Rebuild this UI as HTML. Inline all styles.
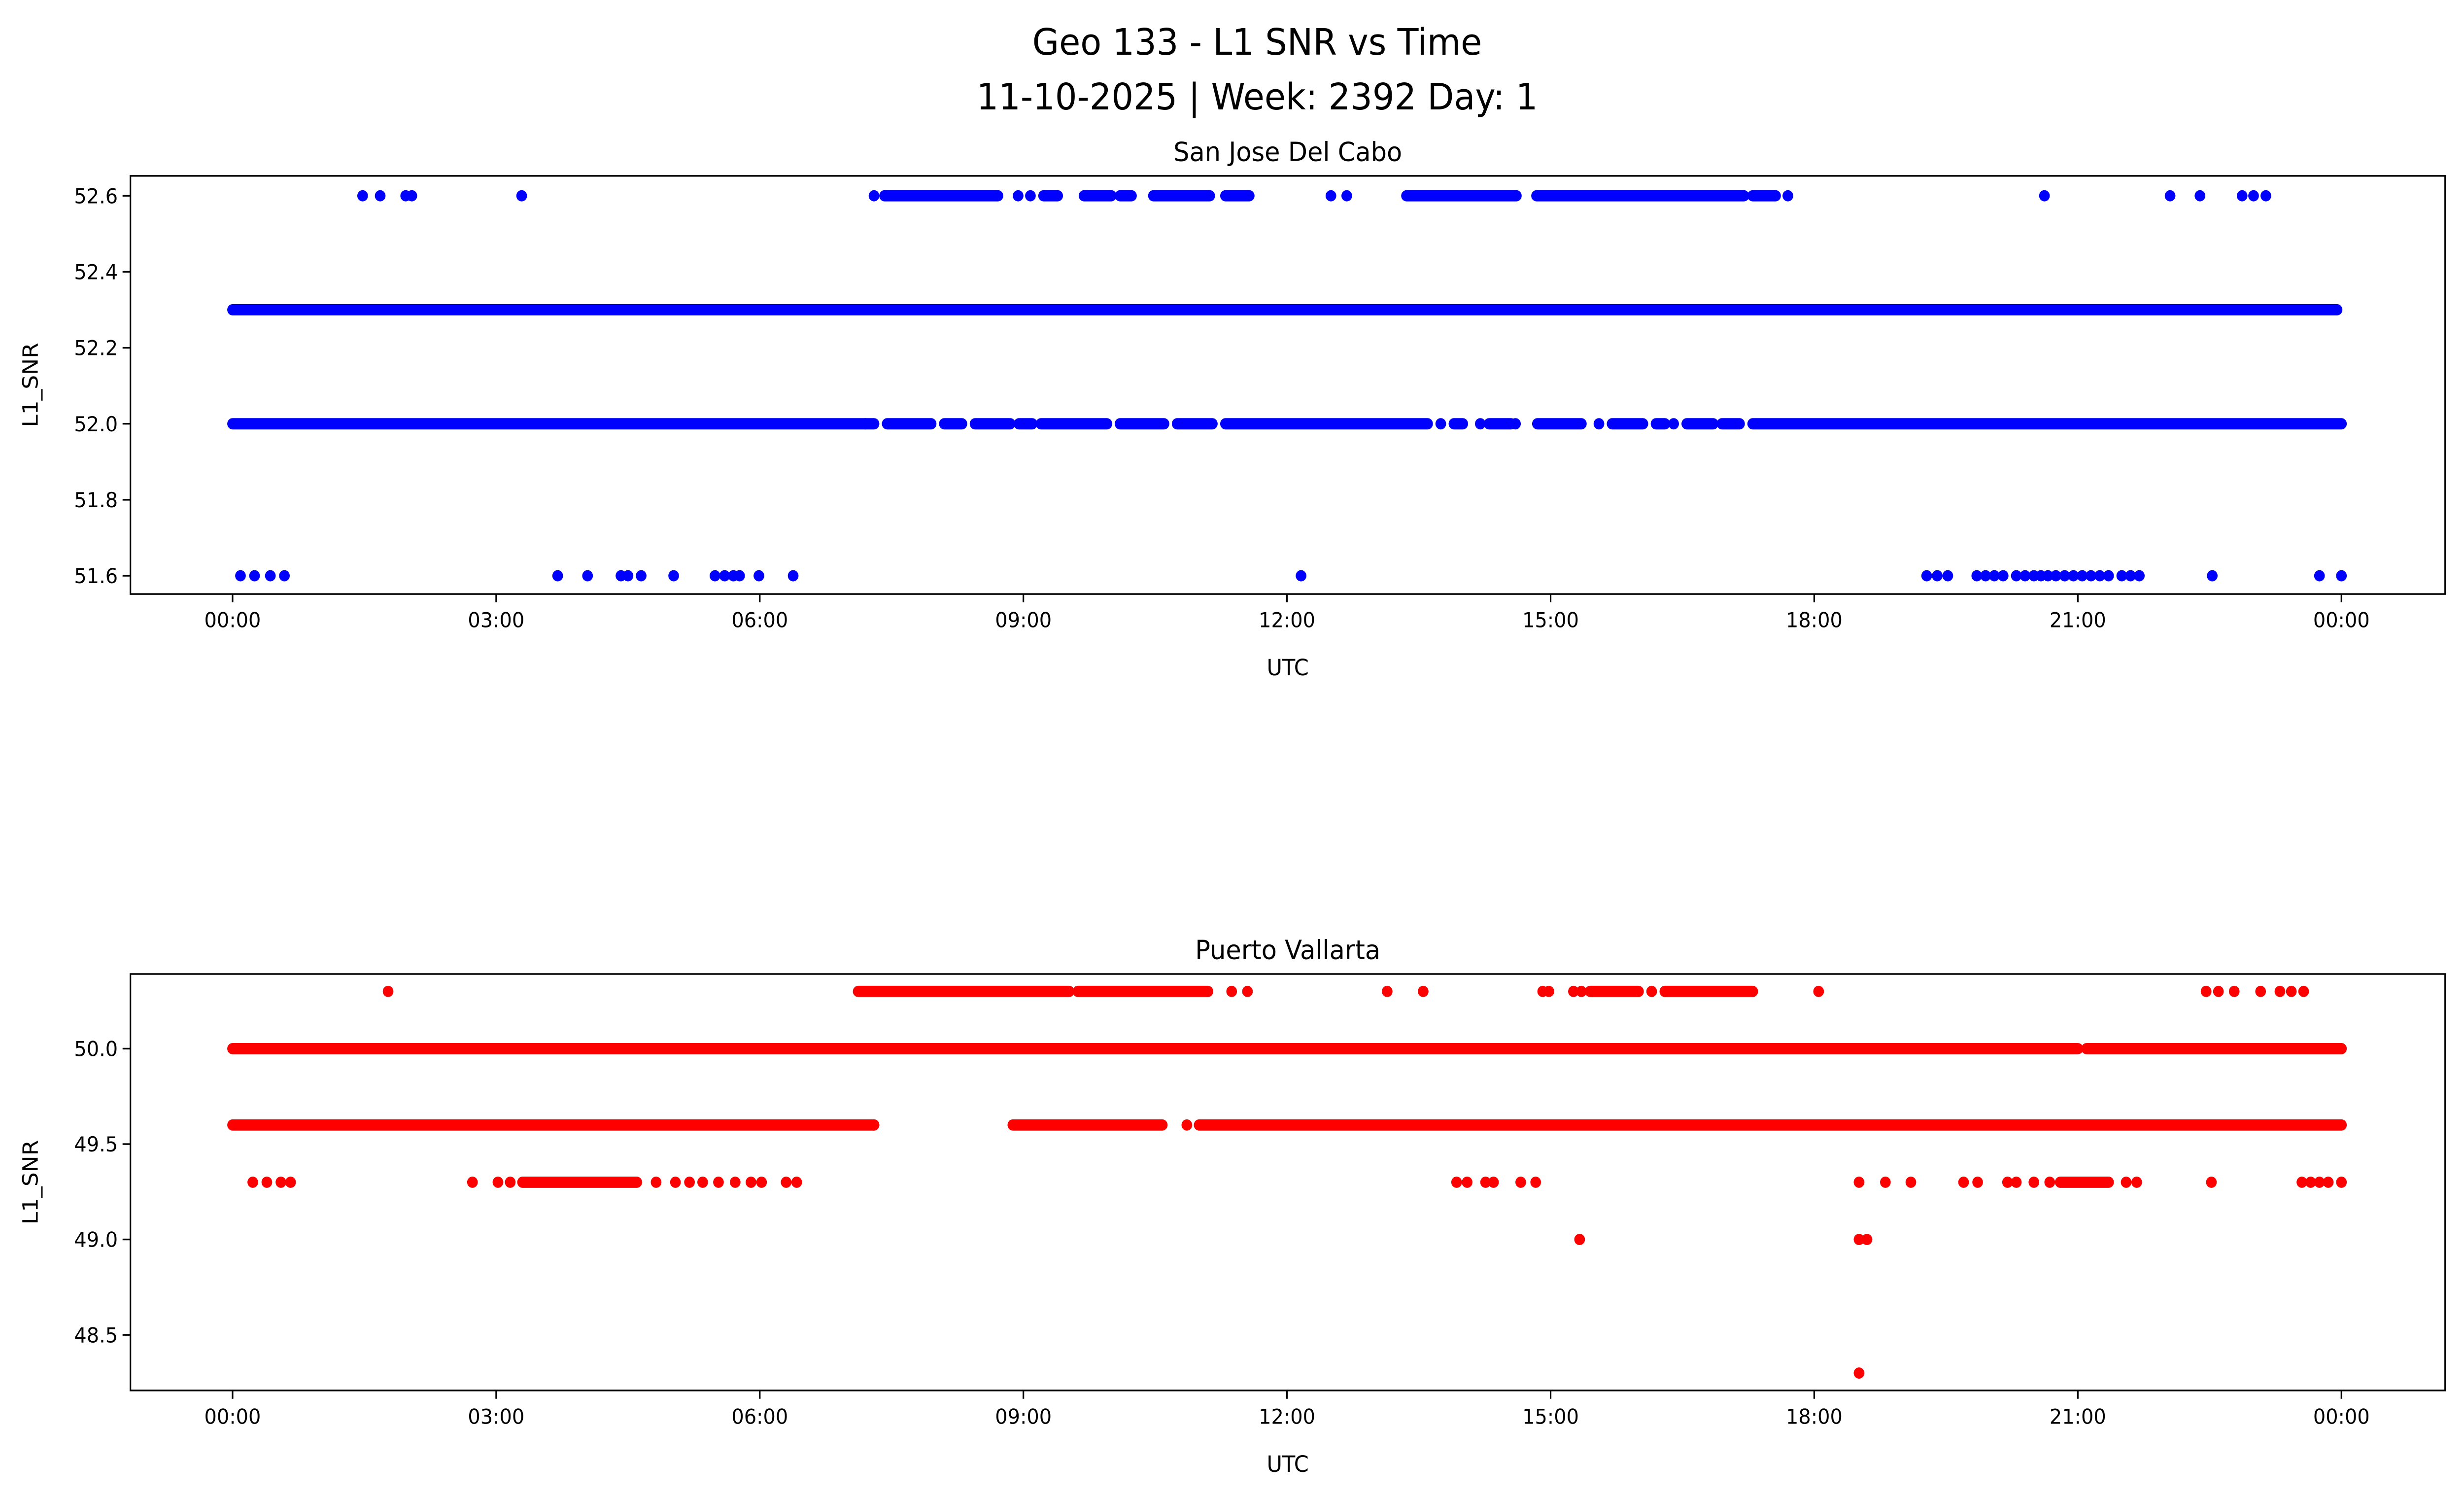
<!DOCTYPE html>
<html><head><meta charset="utf-8"><style>
html,body{margin:0;padding:0;background:#fff;width:100%;height:100%;overflow:hidden;}
svg{display:block;width:100vw;height:100vh;font-family:"DejaVu Sans","Liberation Sans",sans-serif;}
</style></head><body>
<svg id="chart" xmlns="http://www.w3.org/2000/svg" viewBox="0 0 1568 901" preserveAspectRatio="none">
<rect x="0" y="0" width="1568" height="901" fill="#fff"/>
<text x="800" y="33" text-anchor="middle" font-size="22">Geo 133 - L1 SNR vs Time</text>
<text x="800" y="66" text-anchor="middle" font-size="22">11-10-2025 | Week: 2392 Day: 1</text>
<g id="p1"></g><g id="p2"></g>
</svg>
<script>
// ---- data (hours UTC) ----
const xTickLabels = ["00:00","03:00","06:00","09:00","12:00","15:00","18:00","21:00","00:00"];
const xTickHours = [0,3,6,9,12,15,18,21,24];
const topYTicks = [51.6,51.8,52.0,52.2,52.4,52.6];
const botYTicks = [48.5,49.0,49.5,50.0];
// top (blue): runs [start,end,value]
const topRuns = [
 [0,23.95,52.3],
 [0,7.3,52.0],[7.45,7.95],[8.1,8.3],[8.45,8.85],[8.95,9.1],[9.2,9.95],[10.1,10.6],[10.75,11.15],[11.3,13.6],[13.9,14.0],[14.3,14.55],[14.85,15.35],[15.7,16.05],[16.2,16.3],[16.55,16.85],[16.95,17.15],[17.3,24.0],
 [7.42,8.71,52.6],[9.23,9.39],[9.69,10.0],[10.1,10.23],[10.48,11.12],[11.3,11.57],[13.36,14.61],[14.84,17.2],[17.3,17.56]
];
for(let i=1;i<topRuns.length;i++) if(topRuns[i].length===2) topRuns[i].push(topRuns[i-1][2]);
const topPoints = [
 [1.48,52.6],[1.68,52.6],[1.97,52.6],[2.04,52.6],[3.29,52.6],[7.3,52.6],[8.94,52.6],[9.08,52.6],[12.5,52.6],[12.68,52.6],[17.7,52.6],[20.62,52.6],[22.05,52.6],[22.39,52.6],[22.87,52.6],[23.0,52.6],[23.14,52.6],
 [7.2,52.0],[13.75,52.0],[14.2,52.0],[14.6,52.0],[15.55,52.0],[16.4,52.0],
 [0.09,51.6],[0.25,51.6],[0.43,51.6],[0.59,51.6],[3.7,51.6],[4.04,51.6],[4.42,51.6],[4.5,51.6],[4.65,51.6],[5.02,51.6],[5.49,51.6],[5.6,51.6],[5.7,51.6],[5.77,51.6],[5.99,51.6],[6.38,51.6],[12.16,51.6],
 [19.28,51.6],[19.4,51.6],[19.52,51.6],[19.85,51.6],[19.95,51.6],[20.05,51.6],[20.15,51.6],[20.3,51.6],[20.4,51.6],[20.5,51.6],[20.58,51.6],[20.66,51.6],[20.75,51.6],[20.85,51.6],[20.95,51.6],[21.05,51.6],[21.15,51.6],[21.25,51.6],[21.35,51.6],[21.5,51.6],[21.6,51.6],[21.7,51.6],[22.53,51.6],[23.75,51.6],[24.0,51.6]
];
// bottom (red)
const botRuns = [
 [0,21.0,50.0],[21.1,24.0,50.0],
 [0,7.3,49.6],[8.88,10.58,49.6],[11.0,24.0,49.6],
 [7.12,9.52,50.3],[9.62,11.1,50.3],[15.45,16.0,50.3],[16.3,17.3,50.3],
 [3.3,4.6,49.3],[20.8,21.35,49.3]
];
const botPoints = [
 [1.77,50.3],[11.37,50.3],[11.55,50.3],[13.14,50.3],[13.55,50.3],[14.91,50.3],[14.98,50.3],[15.26,50.3],[15.35,50.3],[16.15,50.3],[18.05,50.3],[22.46,50.3],[22.6,50.3],[22.78,50.3],[23.08,50.3],[23.3,50.3],[23.43,50.3],[23.57,50.3],
 [7.3,49.6],[10.86,49.6],
 [0.23,49.3],[0.39,49.3],[0.55,49.3],[0.66,49.3],[2.73,49.3],[3.02,49.3],[3.16,49.3],[4.82,49.3],[5.04,49.3],[5.2,49.3],[5.35,49.3],[5.53,49.3],[5.72,49.3],[5.9,49.3],[6.02,49.3],[6.3,49.3],[6.42,49.3],
 [13.93,49.3],[14.05,49.3],[14.26,49.3],[14.35,49.3],[14.66,49.3],[14.83,49.3],[18.51,49.3],[18.81,49.3],[19.1,49.3],[19.7,49.3],[19.86,49.3],[20.2,49.3],[20.3,49.3],[20.5,49.3],[20.68,49.3],[21.55,49.3],[21.67,49.3],[22.52,49.3],[23.55,49.3],[23.65,49.3],[23.75,49.3],[23.85,49.3],[24.0,49.3],
 [15.33,49.0],[18.51,49.0],[18.6,49.0],
 [18.51,48.3]
];
// ---- rendering ----
const NS="http://www.w3.org/2000/svg";
function mk(parent,tag,attrs){const e=document.createElementNS(NS,tag);for(const k in attrs)e.setAttribute(k,attrs[k]);parent.appendChild(e);return e;}
const X0=83,X1=1556;
const xScale=h=>148+h*(1342/24);
function panel(g,top,bot,yScale,yTicks,fmt,runs,pts,color,title,name){
 mk(g,"rect",{x:X0,y:top,width:X1-X0,height:bot-top,fill:"none",stroke:"#000","stroke-width":1});
 const t=mk(g,"text",{x:(X0+X1)/2,y:top-9,"text-anchor":"middle","font-size":16});t.textContent=title;
 
 
 for(const r of runs){const l=mk(g,"line",{x1:xScale(r[0]),x2:xScale(r[1]),y1:yScale(r[2]),y2:yScale(r[2]),stroke:color,"stroke-width":6.8,"stroke-linecap":"round"});
  
  }
 for(const p of pts){const c=mk(g,"circle",{cx:xScale(p[0]),cy:yScale(p[1]),r:3.4,fill:color});
  
  }
 xTickHours.forEach((h,i)=>{const x=xScale(h);mk(g,"line",{x1:x,x2:x,y1:bot,y2:bot+5,stroke:"#000"});
  const tx=mk(g,"text",{x:x,y:bot+20,"text-anchor":"middle","font-size":12.5});tx.textContent=xTickLabels[i];
  
  });
 yTicks.forEach(v=>{const y=yScale(v);mk(g,"line",{x1:X0-5,x2:X0,y1:y,y2:y,stroke:"#000"});
  const ty=mk(g,"text",{x:X0-8,y:y+4.5,"text-anchor":"end","font-size":12.5});ty.textContent=fmt(v);
  
  });
 const xl=mk(g,"text",{x:(X0+X1)/2,y:bot+49,"text-anchor":"middle","font-size":13.5});xl.textContent="UTC";
 
 
 const yc=(top+bot)/2;
 const yl=mk(g,"text",{x:24,y:yc,"text-anchor":"middle","font-size":13.5,transform:`rotate(-90 24 ${yc})`});yl.textContent="L1_SNR";
 
 
}
const g1=document.getElementById('p1');


panel(g1,106,358,v=>118+(52.6-v)*229,topYTicks,v=>v.toFixed(1),topRuns,topPoints,"#0000ff","San Jose Del Cabo","san-jose");
const g2=document.getElementById('p2');


panel(g2,587,838,v=>632+(50.0-v)*115,botYTicks,v=>v.toFixed(1),botRuns,botPoints,"#ff0000","Puerto Vallarta","puerto-vallarta");
</script>
</body></html>
